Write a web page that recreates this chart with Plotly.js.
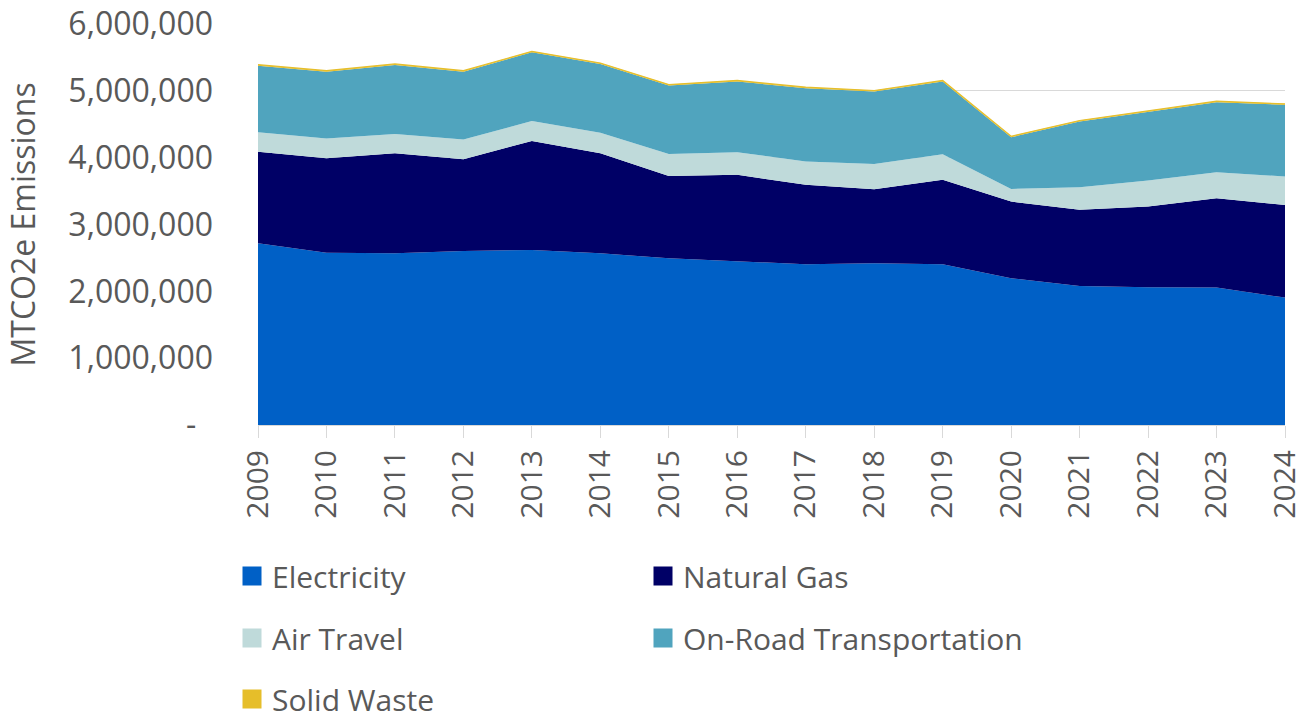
<!DOCTYPE html>
<html>
<head>
<meta charset="utf-8">
<script src="https://cdn.plot.ly/plotly-3.0.1.min.js"></script>
<style>html,body{margin:0;padding:0;background:#fff;}#chart{width:1307px;height:722px;}</style>
</head>
<body>
<div id="chart"></div>
<script>
const years = [2009,2010,2011,2012,2013,2014,2015,2016,2017,2018,2019,2020,2021,2022,2023,2024];
const electricity = [2719000,2578000,2569000,2604000,2619000,2569000,2494000,2455000,2405000,2420000,2405000,2196000,2081000,2061000,2056000,1906000];
const naturalGas = [1371000,1412000,1496000,1371000,1631000,1496000,1232000,1288000,1188000,1108000,1263000,1147000,1138000,1207000,1337000,1387000];
const airTravel = [289000,295000,289000,295000,299000,309000,329000,339000,349000,379000,384000,190000,339000,390000,389000,425000];
const onRoad = [998000,1002000,1033000,1017000,1027000,1028000,1023000,1058000,1098000,1083000,1088000,773000,983000,1033000,1048000,1072000];
const solidWaste = [15000,15000,15000,15000,15000,15000,15000,15000,15000,15000,15000,15000,15000,15000,15000,15000];
const seriesNames = ["Electricity","Natural Gas","Air Travel","On-Road Transportation","Solid Waste"];
const yTickVals = [0,1000000,2000000,3000000,4000000,5000000,6000000];
const yTickText = ["-\u00a0\u00a0","1,000,000","2,000,000","3,000,000","4,000,000","5,000,000","6,000,000"];
const yTitle = "MTCO2e Emissions";

const colors = ["#0060C6","#000066","#BFDADA","#50A4BE","#E6BE2A"];
const seriesData = [electricity, naturalGas, airTravel, onRoad, solidWaste];

const FONT = "Open Sans, Noto Sans, sans-serif";
const TXT = "#595959";

const traces = [];
seriesData.forEach((vals, i) => {
  traces.push({
    type: "scatter", mode: "lines", x: years, y: vals, name: seriesNames[i],
    stackgroup: "one", fillcolor: colors[i],
    line: {color: colors[i], width: i === 4 ? 1.2 : 0},
    showlegend: false, hoverinfo: "skip"
  });
});
// legend entries (square swatches)
const legendIds = ["legend","legend2","legend3","legend4","legend5"];
seriesNames.forEach((n, i) => {
  traces.push({
    type: "scatter", mode: "markers", x: [null], y: [null], name: n,
    marker: {symbol: "square", size: 16, color: colors[i], line: {color: colors[i], width: 3}},
    showlegend: true, legend: legendIds[i], hoverinfo: "skip"
  });
});

const W = 1307, H = 722;
const legPos = [[232,576],[643,576],[232,638],[643,638],[232,699]];
const layout = {
  width: W, height: H,
  margin: {l: 258, r: 22, t: 24, b: 297, autoexpand: false},
  paper_bgcolor: "#fff", plot_bgcolor: "#fff",
  font: {family: FONT, color: TXT, size: 30},
  xaxis: {
    range: [2009, 2024], tickvals: years, ticktext: years.map(String),
    tickangle: -90, ticks: "outside", ticklen: 12, tickcolor: "#d9d9d9", tickwidth: 1,
    showgrid: false, zeroline: false, showline: true, linecolor: "#d9d9d9",
    tickfont: {family: FONT, size: 30, color: TXT}, fixedrange: true
  },
  yaxis: {
    range: [0, 6000000], tickvals: yTickVals, ticktext: yTickText,
    showgrid: true, gridcolor: "#d9d9d9", zeroline: false, showline: false,
    ticks: "", ticklabelstandoff: 44,
    tickfont: {family: FONT, size: 32, color: TXT},
    fixedrange: true
  },
  annotations: [{
    text: yTitle, xref: "paper", yref: "paper", x: 0, y: 0.5,
    xshift: -236, xanchor: "center", yanchor: "middle", textangle: -90,
    showarrow: false, font: {family: FONT, size: 32, color: TXT}
  }],
  showlegend: true
};
legendIds.forEach((id, i) => {
  layout[id] = {
    xref: "container", yref: "container",
    x: legPos[i][0] / W, y: 1 - legPos[i][1] / H,
    xanchor: "left", yanchor: "middle",
    font: {family: FONT, size: 30, color: TXT},
    bgcolor: "rgba(0,0,0,0)", borderwidth: 0
  };
});

Plotly.newPlot("chart", traces, layout, {displayModeBar: false, staticPlot: true});
</script>
</body>
</html>
